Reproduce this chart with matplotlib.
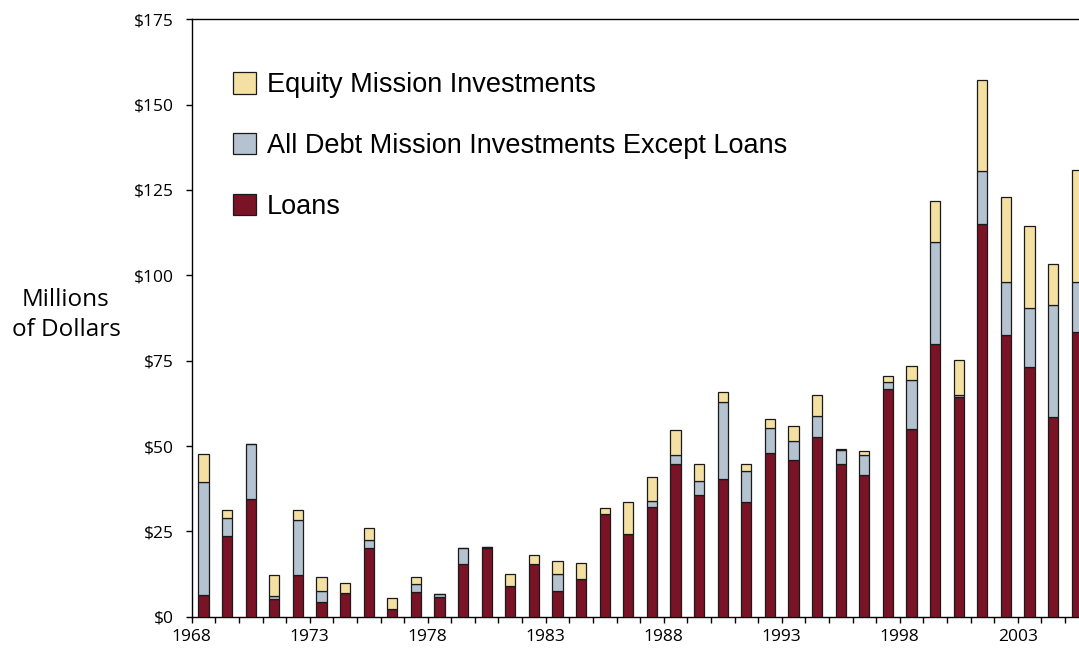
import matplotlib
matplotlib.use("Agg")
import matplotlib.pyplot as plt
import numpy as np

years = list(range(1968, 2006))
loans = [6.3, 23.5, 34.4, 5.3, 12.3, 4.4, 7.0, 20.2, 2.2, 7.2,
         5.9, 15.3, 20.1, 8.9, 15.3, 7.6, 10.9, 30.1, 24.1, 32.0,
         44.6, 35.7, 40.4, 33.5, 48.0, 45.8, 52.7, 44.7, 41.4, 66.6,
         55.1, 79.8, 64.3, 115.1, 82.5, 73.0, 58.4, 83.3]
debt = [33.3, 5.5, 16.2, 0.9, 15.9, 3.0, 0.0, 2.4, 0.0, 2.4,
        0.8, 4.9, 0.4, 0.0, 0.0, 4.9, 0.0, 0.0, 0.0, 2.0,
        2.8, 4.0, 22.5, 9.1, 7.3, 5.6, 6.1, 4.2, 6.0, 2.1,
        14.2, 30.0, 0.7, 15.6, 15.4, 17.3, 32.9, 14.6]
equity = [8.1, 2.4, 0.0, 6.1, 3.2, 4.3, 2.9, 3.5, 3.4, 2.1,
          0.0, 0.0, 0.0, 3.6, 2.9, 3.7, 4.7, 1.6, 9.4, 7.0,
          7.2, 5.0, 2.9, 2.1, 2.6, 4.4, 6.2, 0.3, 1.1, 1.7,
          4.1, 12.0, 10.1, 26.6, 24.9, 24.2, 11.9, 32.9]
labels = ["Equity Mission Investments",
          "All Debt Mission Investments Except Loans",
          "Loans"]
ytick_vals = [0, 25, 50, 75, 100, 125, 150, 175]

c_loans = "#7A1326"
c_debt = "#B4C3CF"
c_equity = "#F5E0A3"
edge = "#1a1a1a"

W, H = 1079, 650
fig = plt.figure(figsize=(W / 100, H / 100), dpi=100)
x0, y0 = 191.7, 616.7
xtop = 19.3
step = 23.6
n = len(years)
ax = fig.add_axes([x0 / W, (H - y0) / H, n * step / W, (y0 - xtop) / H])

x = np.arange(n) + 0.5
loans_a = np.array(loans)
debt_a = np.array(debt)
equity_a = np.array(equity)
bw = 0.43
b1 = ax.bar(x, loans_a, bw, color=c_loans, edgecolor=edge, linewidth=0.9, zorder=3)
b2 = ax.bar(x, debt_a, bw, bottom=loans_a, color=c_debt, edgecolor=edge, linewidth=0.9, zorder=3)
b3 = ax.bar(x, equity_a, bw, bottom=loans_a + debt_a, color=c_equity, edgecolor=edge, linewidth=0.9, zorder=3)

ax.set_xlim(0, n)
ax.set_ylim(0, 175)
ax.spines["right"].set_visible(False)
for s in ["left", "bottom", "top"]:
    ax.spines[s].set_linewidth(1.0)
    ax.spines[s].set_color("black")

ax.set_yticks(ytick_vals)
ax.set_yticklabels([f"${v}" for v in ytick_vals], fontfamily="Open Sans", fontsize=12.5)
major = np.arange(0, n, 5)
ax.set_xticks(major)
ax.set_xticklabels([str(years[i]) for i in major], fontfamily="Open Sans", fontsize=12.5)
ax.set_xticks(np.arange(0, n + 1), minor=True)
ax.tick_params(axis="both", which="both", direction="out", length=4, width=1.0, color="black")
ax.tick_params(axis="y", pad=9)
ax.tick_params(axis="x", pad=5)

fig.text(66 / W, 1 - 315 / H, "Millions\nof Dollars", ha="center", va="center",
         fontfamily="Open Sans", fontsize=17.5, linespacing=1.3)

leg = ax.legend([b3, b2, b1], labels, loc="upper left",
                bbox_to_anchor=(233 / W, 1 - 72 / H), bbox_transform=fig.transFigure,
                frameon=False, prop={"family": "Liberation Sans", "size": 19.5},
                handlelength=0.85, handleheight=0.85, handletextpad=0.4,
                labelspacing=1.28, borderpad=0, borderaxespad=0)

fig.savefig("out.png", dpi=100)
